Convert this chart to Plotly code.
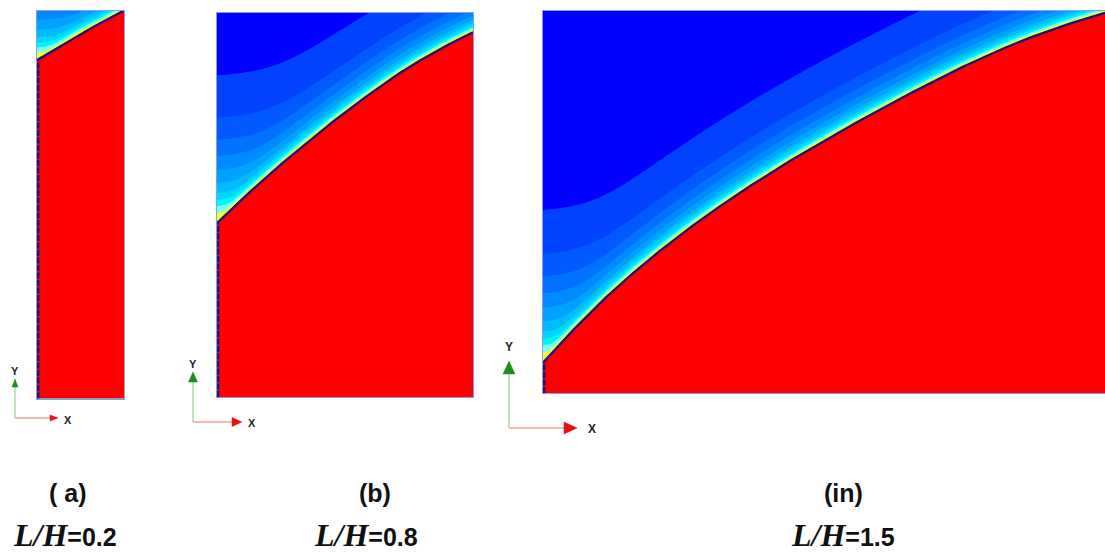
import numpy as np
import plotly.graph_objects as go

# ---------------- data ----------------
# interface height (y/H) sampled at fractions of the panel width (x/L)
A_T = [0.0, 0.25, 0.5, 0.75, 1.0]
A_S = [0.872, 0.905, 0.940, 0.970, 1.0]
B_T = [0.0, 0.25, 0.5, 0.75, 1.0]
B_S = [0.453, 0.606, 0.741, 0.859, 0.95]
C_T = [0.0, 0.125, 0.25, 0.375, 0.5, 0.625, 0.75, 0.875, 1.0]
C_S = [0.079, 0.268, 0.420, 0.548, 0.660, 0.762, 0.856, 0.935, 0.995]

# displayed panel widths (in units of H)
WIDTHS = [0.224, 0.667, 1.471]
PANEL_LABELS = ["( a)", "(b)", "(in)"]
ASPECT_VALUES = ["0.2", "0.8", "1.5"]
WALL_SCALE = [0.75, 1.0, 1.04]

# vertical gap (in H) between the interface and contour levels 1..10
WALL_GAP = [0.383, 0.273, 0.216, 0.174, 0.138, 0.104, 0.078, 0.06, 0.044, 0.026]   # at the left wall
FAR_GAP = [0.228, 0.128, 0.094, 0.07, 0.052, 0.039, 0.029, 0.021, 0.0145, 0.0085]  # along the interface
BAND_COLORS = ["#0000FF", "#0042FF", "#005AFF", "#0072FF", "#008AFF", "#00A2FF",
               "#00BCFF", "#00D6FF", "#00F6FF", "#78FFF0", "#F4FF30", "#FF0000"]

W, H = 1105, 553


def pchip(xk, yk, x):
    xk = np.asarray(xk, float)
    yk = np.asarray(yk, float)
    x = np.asarray(x, float)
    h = np.diff(xk)
    delta = np.diff(yk) / h
    n = len(xk)
    m = np.zeros(n)
    for i in range(1, n - 1):
        if delta[i - 1] * delta[i] <= 0:
            m[i] = 0
        else:
            w1 = 2 * h[i] + h[i - 1]
            w2 = h[i] + 2 * h[i - 1]
            m[i] = (w1 + w2) / (w1 / delta[i - 1] + w2 / delta[i])
    m[0] = ((2 * h[0] + h[1]) * delta[0] - h[0] * delta[1]) / (h[0] + h[1])
    m[-1] = ((2 * h[-1] + h[-2]) * delta[-1] - h[-1] * delta[-2]) / (h[-1] + h[-2])
    idx = np.clip(np.searchsorted(xk, x) - 1, 0, n - 2)
    t = (x - xk[idx]) / h[idx]
    h00 = 2 * t**3 - 3 * t**2 + 1
    h10 = t**3 - 2 * t**2 + t
    h01 = -2 * t**3 + 3 * t**2
    h11 = t**3 - t**2
    return h00 * yk[idx] + h10 * h[idx] * m[idx] + h01 * yk[idx + 1] + h11 * h[idx] * m[idx + 1]


def smax(a, b, eps):
    return 0.5 * (a + b + np.sqrt((a - b) ** 2 + eps ** 2))


def build_field(T, S, width, scale, nx, ny):
    xk = np.array(T) * width
    x = np.linspace(0, width, nx)
    y = np.linspace(0, 1, ny)
    xs = np.linspace(0, width, 700)
    ys = pchip(xk, S, xs)
    yi = pchip(xk, S, x)
    wall = np.array(WALL_GAP) * scale
    far = np.array(FAR_GAP)
    diff = np.maximum(wall - far, 0.002)
    eps = 0.6 * diff
    fp = [11.0] + [float(v) for v in range(10, 0, -1)] + [0.0]
    phi = np.empty((ny, nx))
    for i in range(nx):
        t = x[i] / width
        a = yi[0] + wall - 0.083 * diff
        b = yi[i] + far * (1 - 0.2 * t)
        lev = smax(a, b, eps)          # heights of levels 1..10
        xp = np.concatenate([[yi[i]], lev[::-1], [lev[0] + 0.3]])
        col = np.interp(y, xp, fp)
        col[y < yi[i]] = 12.0
        phi[:, i] = col
    return x, y, np.round(phi, 3), xs, ys


def px_x(p):
    return p / W


def px_y(p):
    return 1 - p / H


panels = [
    dict(T=A_T, S=A_S, dom_x=(37, 124), dom_y=(10.5, 398.5), nx=90, ny=400),
    dict(T=B_T, S=B_S, dom_x=(217, 473), dom_y=(13, 397), nx=260, ny=400),
    dict(T=C_T, S=C_S, dom_x=(543, 1105), dom_y=(11, 393), nx=480, ny=400),
]

fig = go.Figure()
colorscale = [[i / 11, c] for i, c in enumerate(BAND_COLORS)]

layout_axes = {}
for k, p in enumerate(panels):
    width = WIDTHS[k]
    x, y, phi, xs, ys = build_field(p["T"], p["S"], width, WALL_SCALE[k], p["nx"], p["ny"])
    sx = "" if k == 0 else str(k + 1)
    xa, ya = "x" + sx, "y" + sx
    fig.add_trace(go.Contour(
        x=x, y=y, z=phi, xaxis=xa, yaxis=ya,
        contours=dict(start=1, end=11, size=1, coloring="fill", showlines=False),
        line=dict(width=0), colorscale=colorscale, showscale=False, hoverinfo="skip"))
    # dashed wall line below interface
    fig.add_trace(go.Scatter(
        x=[0.003, 0.003], y=[0, p["S"][0]],
        xaxis=xa, yaxis=ya, mode="lines",
        line=dict(color="#14147A", width=2.5, dash="6px,1.5px"), hoverinfo="skip", showlegend=False))
    # interface line
    fig.add_trace(go.Scatter(
        x=xs, y=ys, xaxis=xa, yaxis=ya, mode="lines",
        line=dict(color="#14147A", width=2.3), hoverinfo="skip", showlegend=False))
    x0, x1 = p["dom_x"]
    y0, y1 = p["dom_y"]
    layout_axes["xaxis" + sx] = dict(
        domain=[px_x(x0), min(1.0, px_x(x1))], range=[0, width], anchor=ya,
        showgrid=False, zeroline=False, showticklabels=False, ticks="",
        showline=True, linecolor="#8C9CEB", linewidth=1, mirror=True)
    layout_axes["yaxis" + sx] = dict(
        domain=[px_y(y1), px_y(y0)], range=[0, 1], anchor=xa,
        showgrid=False, zeroline=False, showticklabels=False, ticks="",
        showline=True, linecolor="#8C9CEB", linewidth=1, mirror=(k != 2))

fig.update_layout(**layout_axes)

# ---------------- axis triads ----------------
triads = [
    dict(o=(15, 418), ytip=379, xtip=58, hw=3, hl=8, ylab=(15, 371), xlab=(68, 420), fs=11),
    dict(o=(193, 422), ytip=372, xtip=242, hw=4.5, hl=10, ylab=(193, 364), xlab=(252, 423), fs=11),
    dict(o=(509, 428), ytip=361, xtip=577, hw=6, hl=13, ylab=(509, 347), xlab=(592, 429), fs=12),
]
shapes = []
annotations = []
for t in triads:
    ox, oy = t["o"]
    hw, hl = t["hw"], t["hl"]
    shapes.append(dict(type="line", xref="paper", yref="paper",
                       x0=px_x(ox), y0=px_y(oy), x1=px_x(ox), y1=px_y(t["ytip"] + hl),
                       line=dict(color="#7CCB7C", width=1)))
    shapes.append(dict(type="path", xref="paper", yref="paper",
                       path=f"M {px_x(ox)},{px_y(t['ytip'])} L {px_x(ox - hw)},{px_y(t['ytip'] + hl)} "
                            f"L {px_x(ox + hw)},{px_y(t['ytip'] + hl)} Z",
                       fillcolor="#1E8C1E", line=dict(color="#1E8C1E", width=0.5)))
    shapes.append(dict(type="line", xref="paper", yref="paper",
                       x0=px_x(ox), y0=px_y(oy), x1=px_x(t["xtip"] - hl), y1=px_y(oy),
                       line=dict(color="#F07070", width=1)))
    shapes.append(dict(type="path", xref="paper", yref="paper",
                       path=f"M {px_x(t['xtip'])},{px_y(oy)} L {px_x(t['xtip'] - hl)},{px_y(oy - hw)} "
                            f"L {px_x(t['xtip'] - hl)},{px_y(oy + hw)} Z",
                       fillcolor="#E81010", line=dict(color="#E81010", width=0.5)))
    annotations.append(dict(x=px_x(t["ylab"][0]), y=px_y(t["ylab"][1]), xref="paper", yref="paper",
                            text="<b>Y</b>", showarrow=False, xanchor="center", yanchor="middle",
                            font=dict(family="Liberation Sans, Arial", size=t["fs"], color="#222")))
    annotations.append(dict(x=px_x(t["xlab"][0]), y=px_y(t["xlab"][1]), xref="paper", yref="paper",
                            text="<b>X</b>", showarrow=False, xanchor="center", yanchor="middle",
                            font=dict(family="Liberation Sans, Arial", size=t["fs"], color="#222")))

# ---------------- panel labels ----------------
label_x = [68, 375, 843]
ratio_x = [65, 366, 843]
for k in range(3):
    annotations.append(dict(x=px_x(label_x[k]), y=px_y(493), xref="paper", yref="paper",
                            text=f"<b>{PANEL_LABELS[k]}</b>", showarrow=False,
                            xanchor="center", yanchor="middle",
                            font=dict(family="Liberation Sans, Arial", size=25, color="#111")))
    annotations.append(dict(x=px_x(ratio_x[k]), y=px_y(535), xref="paper", yref="paper",
                            text=("<span style='font-family:Liberation Serif, Times New Roman, serif;"
                                  "font-size:32px'><b><i>L/H</i></b></span>"
                                  f"<b>={ASPECT_VALUES[k]}</b>"),
                            showarrow=False, xanchor="center", yanchor="middle",
                            font=dict(family="Liberation Sans, Arial", size=25, color="#111")))

fig.update_layout(
    width=W, height=H, margin=dict(l=0, r=0, t=0, b=0),
    paper_bgcolor="white", plot_bgcolor="white", showlegend=False,
    shapes=shapes, annotations=annotations)

fig.write_html("out.html", config={"displayModeBar": False},
               post_script="document.body.style.margin='0';document.body.style.overflow='hidden';")
